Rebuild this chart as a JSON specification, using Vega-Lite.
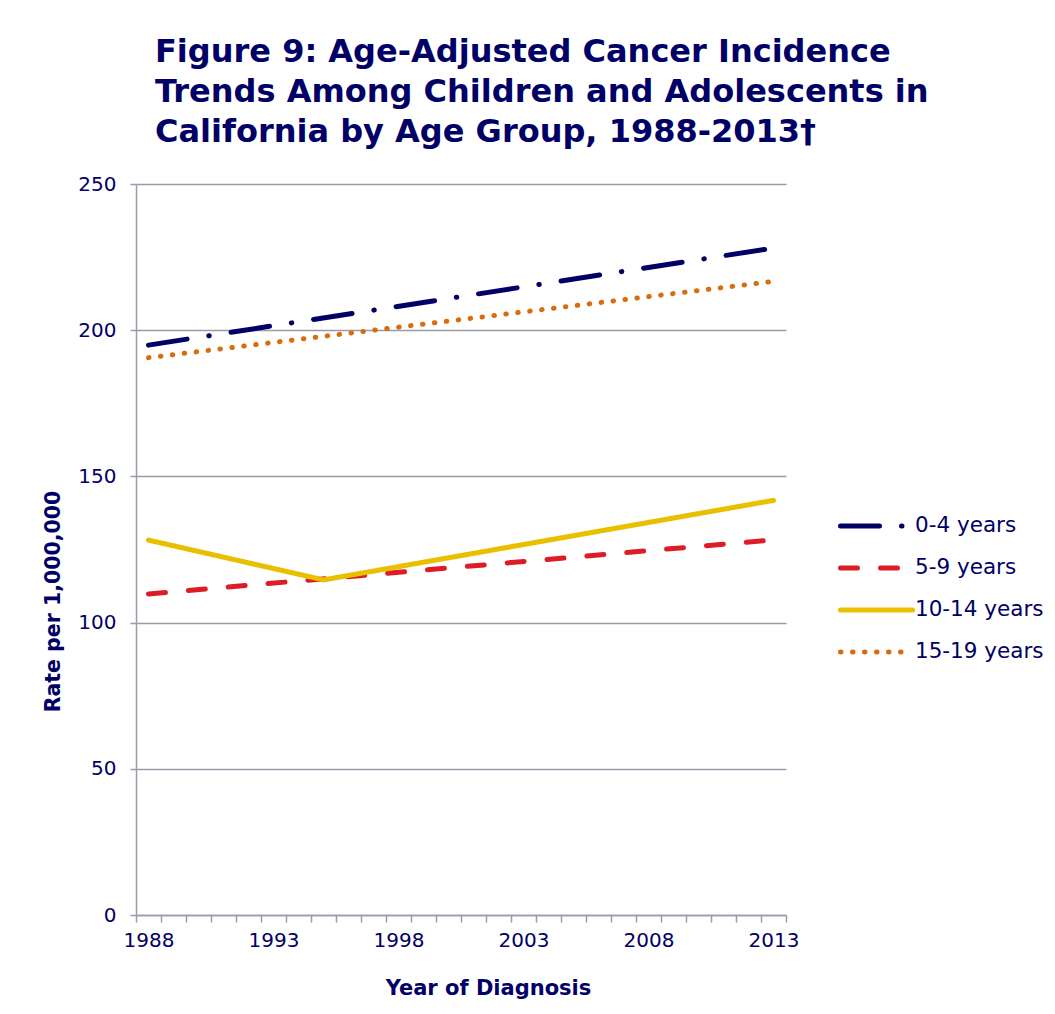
{
  "$schema": "https://vega.github.io/schema/vega-lite/v6.json",
  "width": 650,
  "height": 731,
  "autosize": {"type": "none"},
  "padding": {"left": 136, "top": 184, "right": 269, "bottom": 99},
  "background": "white",
  "title": {
    "text": ["Figure 9: Age-Adjusted Cancer Incidence", "Trends Among Children and Adolescents in", "California by Age Group, 1988-2013†"],
    "anchor": "start",
    "frame": "group",
    "font": "DejaVu Sans",
    "fontSize": 32,
    "fontWeight": "bold",
    "color": "#000066",
    "lineHeight": 40,
    "dx": 19,
    "offset": 25
  },
  "data": {
    "values": [
      {"group": "0-4 years", "year": 1988, "rate": 194.9},
      {"group": "0-4 years", "year": 2013, "rate": 228.1},
      {"group": "5-9 years", "year": 1988, "rate": 109.8},
      {"group": "5-9 years", "year": 2013, "rate": 128.3},
      {"group": "10-14 years", "year": 1988, "rate": 128.2},
      {"group": "10-14 years", "year": 1995, "rate": 114.6},
      {"group": "10-14 years", "year": 2013, "rate": 141.8},
      {"group": "15-19 years", "year": 1988, "rate": 190.6},
      {"group": "15-19 years", "year": 2013, "rate": 216.7}
    ]
  },
  "mark": {"type": "line", "strokeWidth": 5, "strokeCap": "round"},
  "encoding": {
    "x": {
      "field": "year",
      "type": "quantitative",
      "scale": {"domain": [1987.5, 2013.5], "nice": false, "zero": false},
      "axis": {
        "values": [1987.5, 1988.5, 1989.5, 1990.5, 1991.5, 1992.5, 1993.5, 1994.5, 1995.5, 1996.5, 1997.5, 1998.5, 1999.5, 2000.5, 2001.5, 2002.5, 2003.5, 2004.5, 2005.5, 2006.5, 2007.5, 2008.5, 2009.5, 2010.5, 2011.5, 2012.5, 2013.5],
        "labelExpr": "((datum.value + 0.5) % 5 == 3) ? toString(datum.value + 0.5) : ''",
        "labelOffset": 12.5,
        "labelOverlap": false,
        "labelFlush": false,
        "grid": false,
        "tickSize": 7,
        "tickColor": "#9a9aaa",
        "tickWidth": 1.5,
        "domainColor": "#9a9aaa",
        "domainWidth": 1.5,
        "labelColor": "#000066",
        "labelFont": "DejaVu Sans",
        "labelFontSize": 20,
        "labelPadding": 8,
        "title": "Year of Diagnosis",
        "titleFont": "DejaVu Sans",
        "titleFontWeight": "bold",
        "titleFontSize": 21,
        "titleColor": "#000066",
        "titleX": 352,
        "titleY": 73,
        "titleBaseline": "middle",
        "titleAlign": "center"
      }
    },
    "y": {
      "field": "rate",
      "type": "quantitative",
      "scale": {"domain": [0, 250], "nice": false},
      "axis": {
        "values": [0, 50, 100, 150, 200, 250],
        "grid": true,
        "gridColor": "#9a9aaa",
        "gridWidth": 1.5,
        "tickSize": 6,
        "tickColor": "#9a9aaa",
        "tickWidth": 1.5,
        "domainColor": "#9a9aaa",
        "domainWidth": 1.5,
        "labelColor": "#000066",
        "labelFont": "DejaVu Sans",
        "labelFontSize": 20,
        "labelPadding": 14,
        "title": "Rate per 1,000,000",
        "titleFont": "DejaVu Sans",
        "titleFontWeight": "bold",
        "titleFontSize": 20.5,
        "titleColor": "#000066",
        "titleX": -83,
        "titleY": 417,
        "titleBaseline": "middle",
        "titleAlign": "center",
        "titleAngle": -90
      }
    },
    "color": {
      "field": "group",
      "type": "nominal",
      "scale": {
        "domain": ["0-4 years", "5-9 years", "10-14 years", "15-19 years"],
        "range": ["#000066", "#dd1c26", "#e8c000", "#d96d0d"]
      },
      "legend": {
        "orient": "none",
        "legendX": 702,
        "legendY": 321,
        "title": null,
        "symbolType": "stroke",
        "symbolSize": 5184,
        "symbolStrokeWidth": 5,
        "labelFont": "DejaVu Sans",
        "labelFontSize": 21.5,
        "labelColor": "#000066",
        "labelOffset": 0,
        "rowPadding": 0,
        "clipHeight": 42,
        "encode": {"symbols": {"update": {"strokeCap": {"value": "round"}}}}
      }
    },
    "strokeDash": {
      "field": "group",
      "type": "nominal",
      "scale": {
        "domain": ["0-4 years", "5-9 years", "10-14 years", "15-19 years"],
        "range": [[39, 22, 0.5, 22], [17, 23], [1, 0], [0.5, 11.5]]
      },
      "legend": {
        "orient": "none",
        "legendX": 702,
        "legendY": 321,
        "title": null,
        "symbolType": "stroke",
        "symbolSize": 5184,
        "symbolStrokeWidth": 5,
        "labelFont": "DejaVu Sans",
        "labelFontSize": 21.5,
        "labelColor": "#000066",
        "labelOffset": 0,
        "rowPadding": 0,
        "clipHeight": 42,
        "encode": {"symbols": {"update": {"strokeCap": {"value": "round"}}}}
      }
    }
  },
  "config": {"view": {"stroke": null}}
}
